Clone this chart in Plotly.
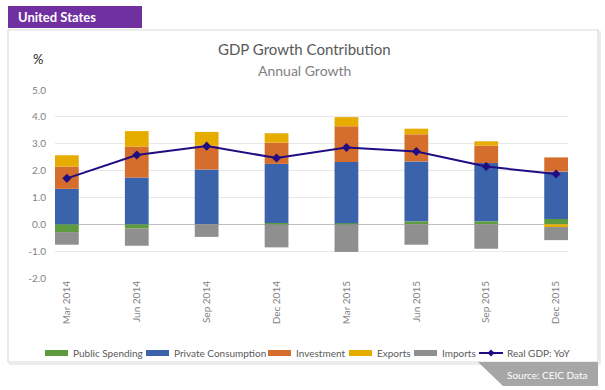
import plotly.graph_objects as go

categories = ["Mar 2014", "Jun 2014", "Sep 2014", "Dec 2014", "Mar 2015", "Jun 2015", "Sep 2015", "Dec 2015"]
public_spending = [-0.29, -0.16, 0.0, 0.05, 0.04, 0.11, 0.11, 0.20]
private_consumption = [1.32, 1.74, 2.04, 2.20, 2.28, 2.23, 2.17, 1.76]
investment = [0.83, 1.15, 0.89, 0.79, 1.33, 1.01, 0.65, 0.53]
exports = [0.42, 0.58, 0.51, 0.35, 0.34, 0.21, 0.16, -0.10]
imports = [-0.47, -0.64, -0.47, -0.86, -1.03, -0.76, -0.91, -0.49]
real_gdp_yoy = [1.71, 2.58, 2.91, 2.47, 2.86, 2.71, 2.15, 1.87]
y_ticks = [-2.0, -1.0, 0.0, 1.0, 2.0, 3.0, 4.0, 5.0]

FONT = "Lato"
W, H = 605, 390
L, R, T, B = 55, 37, 90, 112
pw, ph = W - L - R, H - T - B

def px(x):
    return (x - L) / pw

def py(y):
    return (H - B - y) / ph

fig = go.Figure()
bar_series = [
    ("Public Spending", public_spending, "#5E9B3F"),
    ("Private Consumption", private_consumption, "#3A63AC"),
    ("Investment", investment, "#D56E2C"),
    ("Exports", exports, "#E6AC00"),
    ("Imports", imports, "#8F8F8F"),
]
LINE_COL = "#200C83"
for name, vals, col in bar_series:
    fig.add_trace(go.Bar(x=categories, y=vals, name=name, marker=dict(color=col, line=dict(width=0)),
                         width=0.34))
fig.add_trace(go.Scatter(x=categories, y=real_gdp_yoy, name="Real GDP: YoY", mode="lines+markers",
                         line=dict(color=LINE_COL, width=2),
                         marker=dict(symbol="diamond", size=7, color=LINE_COL)))

shapes = [
    dict(type="rect", xref="paper", yref="paper", x0=px(10), x1=px(600), y0=py(364), y1=py(32),
         line=dict(color="#EBEBEB", width=2), fillcolor="rgba(0,0,0,0)", layer="below"),
    dict(type="rect", xref="paper", yref="paper", x0=px(8), x1=px(598), y0=py(362), y1=py(30),
         line=dict(color="#D9D9D9", width=1.2), fillcolor="white", layer="below"),
    dict(type="rect", xref="paper", yref="paper", x0=px(8), x1=px(142), y0=py(28), y1=py(6),
         line=dict(width=0), fillcolor="#7030A0"),
    dict(type="path", xref="paper", yref="paper",
         path=f"M {px(478)},{py(362)} L {px(598)},{py(362)} L {px(598)},{py(386)} L {px(503)},{py(386)} Z",
         line=dict(width=0), fillcolor="#A6A6A6"),
]
annotations = [
    dict(text="<b>United States</b>", xref="paper", yref="paper", x=px(16), y=py(17), xanchor="left",
         yanchor="middle", showarrow=False, font=dict(family=FONT, size=13, color="white")),
    dict(text="GDP Growth Contribution", xref="paper", yref="paper", x=px(304), y=py(49), xanchor="center",
         yanchor="middle", showarrow=False, font=dict(family=FONT, size=15, color="#595959")),
    dict(text="Annual Growth", xref="paper", yref="paper", x=px(304), y=py(70), xanchor="center",
         yanchor="middle", showarrow=False, font=dict(family=FONT, size=14, color="#7F7F7F")),
    dict(text="%", xref="paper", yref="paper", x=px(38), y=py(59), xanchor="center",
         yanchor="middle", showarrow=False, font=dict(family=FONT, size=13, color="#262626")),
    dict(text="Source: CEIC Data", xref="paper", yref="paper", x=px(590), y=py(375), xanchor="right",
         yanchor="middle", showarrow=False, font=dict(family=FONT, size=10, color="white")),
]

# manual legend (wide swatches as in the reference)
legend_x = [45, 146, 268, 349, 414, 479]
LEG_Y = 353
legend_items = [(n, c) for n, _, c in bar_series] + [("Real GDP: YoY", LINE_COL)]
for (name, col), x0 in zip(legend_items, legend_x):
    if name == "Real GDP: YoY":
        shapes.append(dict(type="line", xref="paper", yref="paper", x0=px(x0), x1=px(x0 + 24),
                           y0=py(LEG_Y), y1=py(LEG_Y), line=dict(color=col, width=2)))
        shapes.append(dict(type="path", xref="paper", yref="paper",
                           path=f"M {px(x0+12)},{py(LEG_Y-3.5)} L {px(x0+15.5)},{py(LEG_Y)} L {px(x0+12)},{py(LEG_Y+3.5)} L {px(x0+8.5)},{py(LEG_Y)} Z",
                           line=dict(width=0), fillcolor=col))
    else:
        shapes.append(dict(type="rect", xref="paper", yref="paper", x0=px(x0), x1=px(x0 + 23),
                           y0=py(LEG_Y + 3), y1=py(LEG_Y - 3), line=dict(width=0), fillcolor=col))
    annotations.append(dict(text=name, xref="paper", yref="paper", x=px(x0 + 26), y=py(LEG_Y),
                            xanchor="left", yanchor="middle", showarrow=False,
                            font=dict(family=FONT, size=10, color="#595959")))

fig.update_layout(
    width=W, height=H, autosize=False,
    margin=dict(l=L, r=R, t=T, b=B, pad=0),
    paper_bgcolor="white", plot_bgcolor="rgba(0,0,0,0)",
    barmode="relative", bargap=0.5,
    font=dict(family=FONT, size=10, color="#7F7F7F"),
    showlegend=False,
    xaxis=dict(type="category", range=[-0.17, 7.17], showgrid=False, showline=False, zeroline=False,
               automargin=False, tickangle=-90, ticks="",
               tickfont=dict(family=FONT, size=10, color="#7F7F7F")),
    yaxis=dict(range=[-2.0, 5.0], tickvals=y_ticks, ticktext=[f"{v:.1f}" for v in y_ticks],
               automargin=False,
               showgrid=True, gridcolor="#E8E8E8", gridwidth=1, zeroline=True, zerolinecolor="#BFBFBF",
               zerolinewidth=1, showline=False, ticks="", ticklabelstandoff=8,
               tickfont=dict(family=FONT, size=10, color="#7F7F7F")),
    shapes=shapes, annotations=annotations,
)

fig.write_html("out.html", config={"displayModeBar": False},
               post_script="document.body.style.margin='0';document.body.style.overflow='hidden';")
